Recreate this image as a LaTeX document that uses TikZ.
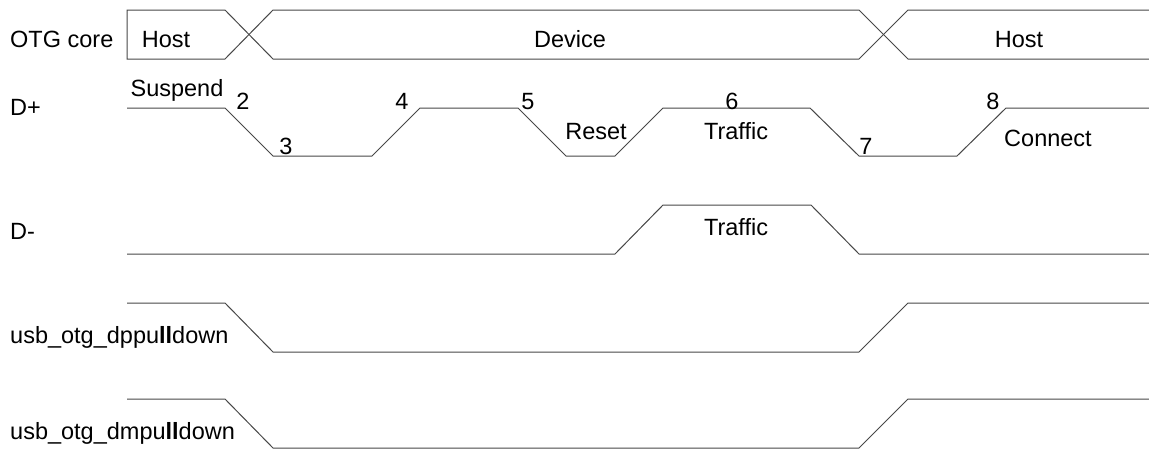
\documentclass[tikz,border=0pt]{standalone}
\usepackage{fontspec}
\setmainfont{Liberation Sans}
\begin{document}
\begin{tikzpicture}[x=1pt,y=-1pt,
  wave/.style={draw=black!72, line width=1pt, line join=miter},
  lbl/.style={font=\fontsize{23.5}{28}\selectfont, inner sep=0pt, text height=16.8pt, text depth=0pt}]
\useasboundingbox (0,0) rectangle (1149,450);
% OTG core bus
\draw[wave] (225,10) -- (127,10) -- (127,59) -- (225,59) -- (273,10) -- (859,10) -- (908,59) -- (1149,59);
\draw[wave] (225,10) -- (273,59) -- (859,59) -- (908,10) -- (1149,10);
% D+
\draw[wave] (127,108) -- (225,108) -- (273,156) -- (372,156) -- (420,108) -- (518,108) -- (566,156) -- (615,156) -- (663,108) -- (810,108) -- (859,156) -- (957,156) -- (1006,108) -- (1149,108);
% D-
\draw[wave] (127,254) -- (615,254) -- (663,205) -- (811,205) -- (859,254) -- (1149,254);
% dppulldown
\draw[wave] (127,303) -- (225,303) -- (273,352) -- (859,352) -- (908,303) -- (1149,303);
% dmpulldown
\draw[wave] (127,399) -- (225,399) -- (273,448) -- (859,448) -- (908,399) -- (1149,399);
% signal names
\node[lbl, anchor=west] (otg) at (10,39) {OTG core};
\node[lbl, anchor=west] (dp) at (10,107) {D+};
\node[lbl, anchor=west] (dm) at (10,231) {D-};
\node[lbl, anchor=west] (dpp) at (10,335) {usb\_otg\_dppu\textbf{ll}down};
\node[lbl, anchor=west] (dmp) at (10,431) {usb\_otg\_dmpu\textbf{ll}down};
% bus values
\node[lbl] (host1) at (166,39) {Host};
\node[lbl] (dev) at (570,39) {Device};
\node[lbl] (host2) at (1019,39) {Host};
% D+ annotations
\node[lbl] (susp) at (177,88.5) {Suspend};
\node[lbl] (n2) at (243,101.5) {2};
\node[lbl] (n3) at (286,146) {3};
\node[lbl] (n4) at (402,101.5) {4};
\node[lbl] (n5) at (528,101.5) {5};
\node[lbl] (reset) at (596,131) {Reset};
\node[lbl] (n6) at (732,101.5) {6};
\node[lbl] (traf1) at (736,131) {Traffic};
\node[lbl] (n7) at (866,146) {7};
\node[lbl] (n8) at (993,101.5) {8};
\node[lbl] (conn) at (1048,138.5) {Connect};
% D- annotation
\node[lbl] (traf2) at (736,227) {Traffic};
\end{tikzpicture}
\end{document}
